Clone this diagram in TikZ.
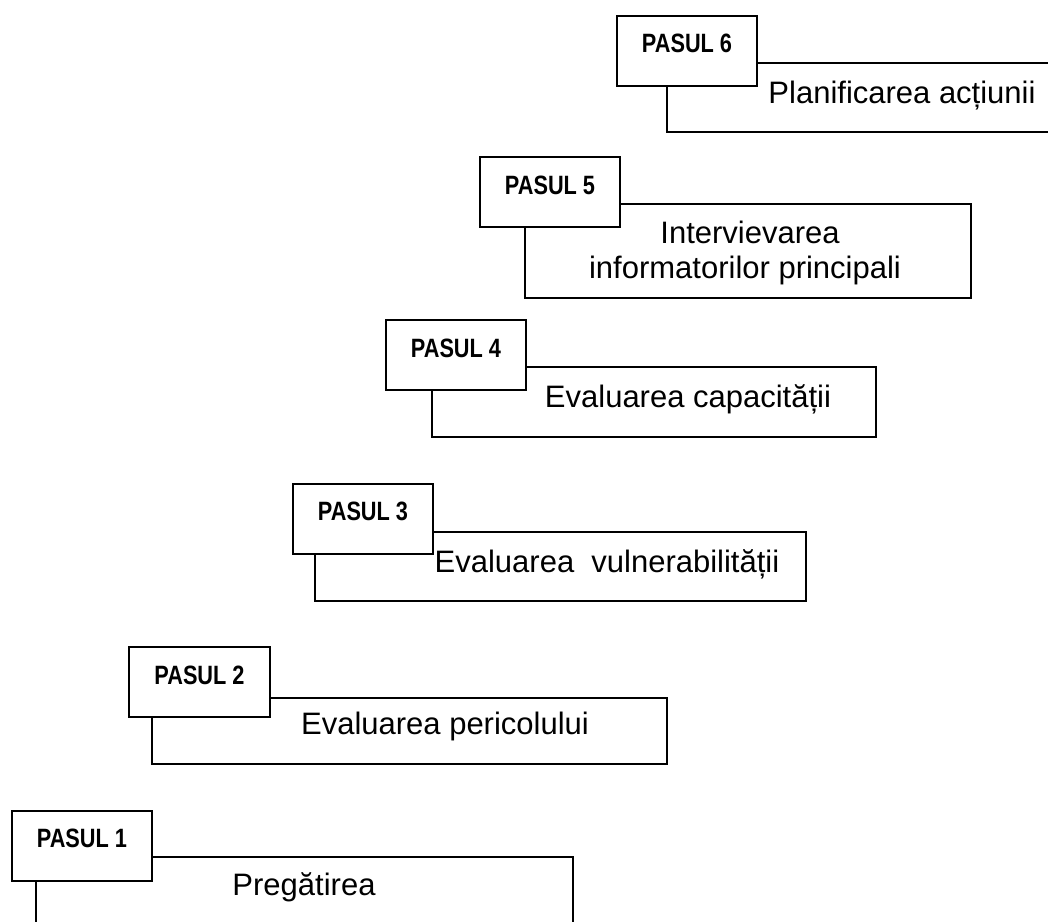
\documentclass[tikz,border=0pt]{standalone}
\usepackage{fontspec}
\setmainfont{Liberation Sans}
\newfontfamily\pasulfont[FakeStretch=0.82]{Liberation Sans}
\begin{document}
\begin{tikzpicture}[x=1pt,y=-1pt,
  pbox/.style={draw, fill=white, line width=2pt, minimum width=140pt, minimum height=70pt, inner sep=0pt},
  tbox/.style={draw, line width=2pt, inner sep=0pt},
  plabel/.style={inner sep=0pt, font=\pasulfont\bfseries\fontsize{26.5}{30}\selectfont},
  tlabel/.style={inner sep=0pt, anchor=base, font=\fontsize{31}{34}\selectfont}]
\useasboundingbox[fill=white] (0,0) rectangle (1048,921);
% step 6
\node[tbox, minimum width=433pt, minimum height=69pt] (t6) at (883.5,97.5) {};
\node[pbox] (p6) at (687,50.5) {};
\node[plabel] (l6) at ([yshift=7pt]p6.center) {PASUL 6};
\node[tlabel] (x6) at (902,103) {Planificarea acțiunii};
% step 5
\node[tbox, minimum width=446pt, minimum height=94pt] (t5) at (748,251) {};
\node[pbox] (p5) at (550,192) {};
\node[plabel] (l5) at ([yshift=7pt]p5.center) {PASUL 5};
\node[tlabel] (x5a) at (750,243) {Intervievarea};
\node[tlabel] (x5b) at (745,278) {informatorilor principali};
% step 4
\node[tbox, minimum width=444pt, minimum height=70pt] (t4) at (654,402) {};
\node[pbox] (p4) at (456,355) {};
\node[plabel] (l4) at ([yshift=7pt]p4.center) {PASUL 4};
\node[tlabel] (x4) at (688,407) {Evaluarea capacității};
% step 3
\node[tbox, minimum width=491pt, minimum height=69pt] (t3) at (560.5,566.5) {};
\node[pbox] (p3) at (363,518.5) {};
\node[plabel] (l3) at ([yshift=7pt]p3.center) {PASUL 3};
\node[tlabel] (x3) at (607,572) {Evaluarea~ vulnerabilității};
% step 2
\node[tbox, minimum width=515pt, minimum height=66pt] (t2) at (409.5,731) {};
\node[pbox, minimum width=141pt] (p2) at (199.5,682) {};
\node[plabel] (l2) at ([yshift=7pt]p2.center) {PASUL 2};
\node[tlabel] (x2) at (445,734) {Evaluarea pericolului};
% step 1
\node[tbox, minimum width=537pt, minimum height=83pt] (t1) at (304.5,898.5) {};
\node[pbox] (p1) at (82,845.5) {};
\node[plabel] (l1) at ([yshift=7pt]p1.center) {PASUL 1};
\node[tlabel] (x1) at (304,895) {Pregătirea};
\end{tikzpicture}
\end{document}
